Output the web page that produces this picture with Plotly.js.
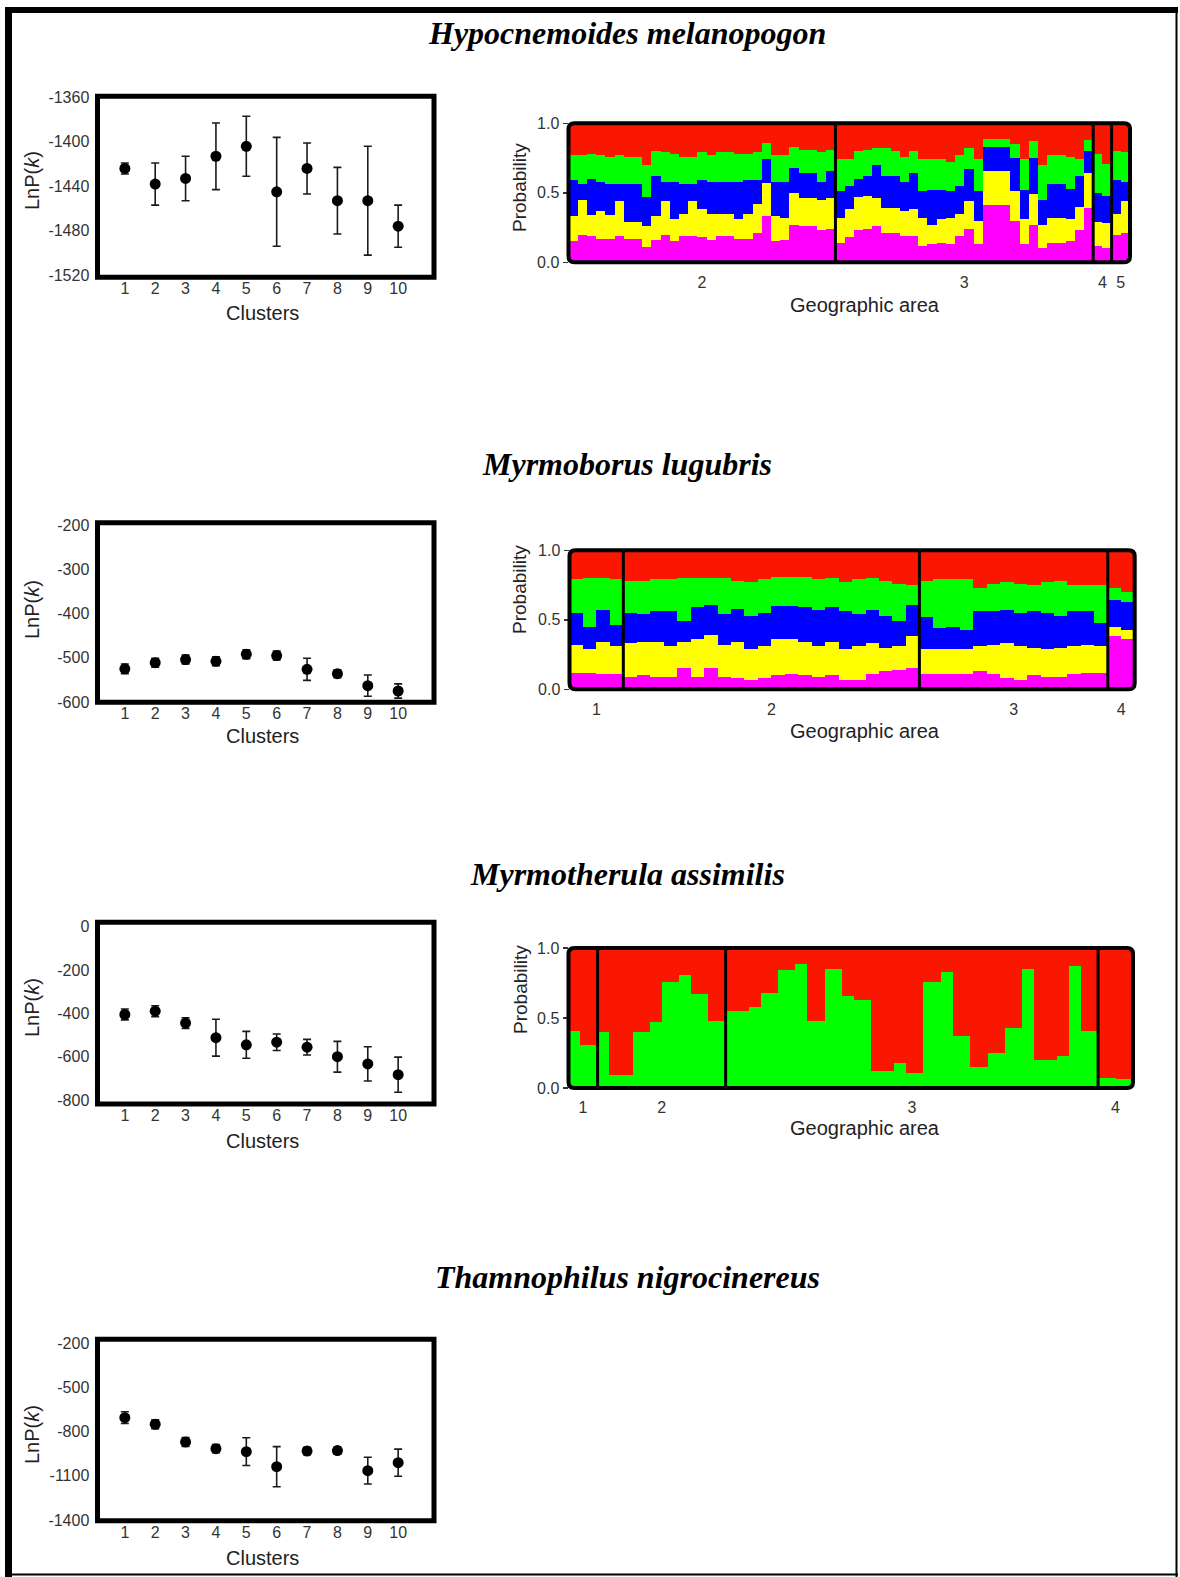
<!DOCTYPE html>
<html><head><meta charset="utf-8">
<script src="https://cdn.plot.ly/plotly-3.0.1.min.js"></script>
<style>html,body{margin:0;padding:0;background:#fff}#chart{width:1180px;height:1577px}</style>
</head><body><div id="chart"></div><script>
// ================= DATA =================
const species = ['Hypocnemoides melanopogon', 'Myrmoborus lugubris', 'Myrmotherula assimilis', 'Thamnophilus nigrocinereus'];
const clusters = [1, 2, 3, 4, 5, 6, 7, 8, 9, 10];

// mean LnP(k) and error (half-length) for each K
const hmLnP   = [-1424, -1438, -1433, -1413, -1404, -1445, -1424, -1453, -1453, -1476];
const hmLnPsd = [5, 19, 20, 30, 27, 49, 23, 30, 49, 19];
const mlLnP   = [-525, -511, -504, -508, -492, -495, -526, -536, -563, -575];
const mlLnPsd = [11, 10, 10, 10, 10, 10, 25, 9, 24, 16];
const maLnP   = [-405, -390, -445, -512, -545, -533, -556, -600, -633, -683];
const maLnPsd = [25, 25, 25, 85, 62, 38, 36, 71, 79, 81];
const tnLnP   = [-705, -750, -870, -916, -936, -1038, -932, -929, -1065, -1011];
const tnLnPsd = [40, 30, 30, 28, 94, 136, 25, 25, 91, 92];

const hmLnPTicks = [-1520, -1480, -1440, -1400, -1360];
const mlLnPTicks = [-600, -500, -400, -300, -200];
const maLnPTicks = [-800, -600, -400, -200, 0];
const tnLnPTicks = [-1400, -1100, -800, -500, -200];

// STRUCTURE bar plots: cumulative membership (top of magenta, yellow, blue, green; red fills to 1)
const hmAreas = ['2', '3', '4', '5'];
const hmAreaSizes = [29, 28, 2, 2];
const hmCumGreen = [
 .77,.77,.78,.77,.76,.77,.76,.76,.70,.80,.79,.78,.76,.76,.79,.77,.79,.79,.78,.78,.79,.86,.77,.77,.83,.81,.81,.79,.81,
 .74,.74,.80,.81,.82,.82,.80,.76,.80,.74,.74,.74,.72,.77,.82,.74,.89,.89,.89,.85,.74,.87,.70,.77,.77,.76,.74,.88,
 .78,.71, .80,.79];
const hmCumBlue = [
 .59,.56,.60,.58,.56,.56,.56,.56,.47,.62,.58,.58,.56,.56,.59,.58,.58,.58,.58,.59,.59,.74,.58,.58,.68,.64,.64,.58,.66,
 .51,.55,.60,.62,.70,.62,.62,.58,.64,.51,.52,.52,.51,.55,.67,.51,.83,.83,.83,.75,.52,.75,.45,.56,.56,.53,.62,.80,
 .50,.48, .59,.58];
const hmCumYellow = [
 .33,.45,.34,.37,.34,.44,.29,.29,.26,.33,.44,.31,.35,.44,.38,.35,.35,.35,.31,.35,.42,.57,.33,.32,.50,.46,.46,.45,.46,
 .32,.38,.47,.48,.46,.39,.39,.37,.38,.32,.27,.31,.32,.35,.44,.30,.66,.66,.66,.51,.31,.49,.27,.32,.32,.31,.40,.64,
 .29,.28, .35,.44];
const hmCumMagenta = [
 .15,.20,.19,.17,.17,.19,.17,.17,.11,.16,.20,.15,.19,.19,.18,.16,.19,.19,.17,.17,.21,.33,.15,.16,.27,.26,.26,.23,.24,
 .14,.18,.23,.24,.26,.21,.21,.19,.19,.12,.13,.14,.13,.19,.24,.13,.41,.41,.41,.30,.13,.27,.10,.14,.14,.15,.23,.39,
 .12,.10, .20,.21];

const mlAreas = ['1', '2', '3', '4'];
const mlAreaSizes = [4, 22, 14, 2];
const mlCumGreen = [.79,.80,.80,.79,
 .78,.78,.79,.79,.80,.80,.80,.80,.78,.77,.79,.81,.81,.81,.79,.80,.77,.79,.80,.78,.76,.75,
 .78,.79,.79,.79,.73,.76,.77,.76,.75,.77,.78,.75,.75,.75, .73,.70];
const mlCumBlue = [.55,.45,.57,.46,
 .55,.54,.56,.56,.49,.59,.61,.54,.58,.53,.55,.60,.60,.59,.57,.59,.56,.54,.57,.53,.49,.61,
 .52,.44,.45,.43,.56,.56,.57,.55,.56,.55,.53,.56,.56,.48, .64,.63];
const mlCumYellow = [.32,.29,.34,.31,
 .33,.34,.34,.31,.34,.36,.39,.32,.34,.29,.31,.36,.36,.34,.31,.34,.29,.31,.33,.30,.31,.38,
 .29,.29,.29,.29,.31,.32,.33,.31,.30,.29,.30,.31,.32,.31, .45,.43];
const mlCumMagenta = [.12,.12,.11,.11,
 .09,.10,.09,.09,.15,.09,.15,.09,.08,.07,.08,.10,.11,.10,.09,.10,.07,.07,.11,.13,.14,.15,
 .11,.11,.11,.11,.13,.11,.08,.07,.10,.09,.09,.11,.12,.12, .38,.36];

const maAreas = ['1', '2', '3', '4'];
const maAreaSizes = [5, 22, 64, 6];
const maGreen = [.41,.41,.31,.31,.31,
 .40,.40,.09,.09,.09,.09,.40,.40,.40,.47,.47,.76,.76,.76,.81,.81,.67,.67,.67,.48,.48,.48,
 .55,.55,.55,.55,.58,.58,.68,.68,.68,.84,.84,.84,.885,.885,.48,.48,.48,.85,.85,.85,.66,.66,.63,.63,.63,
 .12,.12,.12,.12,.18,.18,.11,.11,.11,.76,.76,.76,.83,.83,.37,.37,.37,.15,.15,.15,.25,.25,.25,.43,.43,.43,
 .85,.85,.20,.20,.20,.20,.23,.23,.87,.87,.41,.41,.41,
 .07,.07,.07,.065,.065,.065];

// ================= BUILD =================
const W = 1180, H = 1577;
const px = v => v / W;
const py = v => 1 - v / H;
const COL = {red: '#fa1600', green: '#00ff00', blue: '#0000ff', yellow: '#ffff00', magenta: '#ff00ff'};
const TICKFONT = {family: 'Liberation Sans, Arial, sans-serif', size: 16, color: '#333'};
const TITLEFONT = {family: 'Liberation Sans, Arial, sans-serif', size: 20, color: '#222'};

const traces = [];
const layout = {
  width: W, height: H, margin: {l: 0, r: 0, t: 0, b: 0},
  paper_bgcolor: '#ffffff', plot_bgcolor: 'rgba(0,0,0,0)',
  showlegend: false, barmode: 'stack', bargap: 0,
  font: {family: 'Liberation Sans, Arial, sans-serif', color: '#222'},
  shapes: [], annotations: []
};

// ---- left LnP(k) panels ----
const lnpPanels = [
  {lnp: hmLnP, sd: hmLnPsd, ticks: hmLnPTicks, top: 96.3, bottom: 277.3, range: [-1522, -1359], ytitle: 181, xtitle: 313},
  {lnp: mlLnP, sd: mlLnPsd, ticks: mlLnPTicks, top: 522.7, bottom: 702.3, range: [-600.5, -195], ytitle: 610, xtitle: 736},
  {lnp: maLnP, sd: maLnPsd, ticks: maLnPTicks, top: 922.3, bottom: 1104, range: [-818, 20], ytitle: 1008, xtitle: 1141},
  {lnp: tnLnP, sd: tnLnPsd, ticks: tnLnPTicks, top: 1339.3, bottom: 1520.7, range: [-1405, -173], ytitle: 1435, xtitle: 1558}
];
const LX0 = 97.5, LX1 = 434;
lnpPanels.forEach((p, i) => {
  const n = i + 1;
  const xa = 'xaxis' + (n === 1 ? '' : n), ya = 'yaxis' + (n === 1 ? '' : n);
  const xr = 'x' + (n === 1 ? '' : n), yr = 'y' + (n === 1 ? '' : n);
  traces.push({
    type: 'scatter', mode: 'markers', x: clusters, y: p.lnp, xaxis: xr, yaxis: yr,
    marker: {color: '#000', size: 11},
    error_y: {type: 'data', array: p.sd, visible: true, color: '#1a1a1a', thickness: 1.6, width: 4},
    hoverinfo: 'x+y'
  });
  layout[xa] = {domain: [px(LX0), px(LX1)], range: [0.1, 11.18], anchor: yr,
    tickvals: clusters, ticks: '', 
    showgrid: false, zeroline: false, showline: false, tickfont: TICKFONT, fixedrange: true};
  layout[ya] = {domain: [py(p.bottom), py(p.top)], range: p.range, anchor: xr,
    tickvals: p.ticks, ticktext: p.ticks.map(v => String(v)), ticks: 'outside', ticklen: 4, tickcolor: 'rgba(0,0,0,0)',
    showgrid: false, zeroline: false, showline: false, tickfont: TICKFONT, fixedrange: true};
  layout.shapes.push({type: 'rect', xref: xr + ' domain', yref: yr + ' domain', x0: 0, x1: 1, y0: 0, y1: 1,
    line: {color: '#000', width: 5}});
  layout.annotations.push({text: 'Clusters', x: px(262), y: py(p.xtitle), xref: 'paper', yref: 'paper',
    showarrow: false, xanchor: 'center', yanchor: 'middle', font: TITLEFONT});
  layout.annotations.push({text: 'LnP(<i>k</i>)', x: px(32), y: py(p.ytitle), xref: 'paper', yref: 'paper',
    showarrow: false, textangle: -90, xanchor: 'center', yanchor: 'middle', font: TITLEFONT});
});

// ---- STRUCTURE panels ----
function cumToLayers(cum) {
  // cum: [magentaTop, yellowTop, blueTop, greenTop]; returns stacked heights bottom->top
  const [m, y, b, g] = cum;
  return [
    {name: 'cluster 5', color: COL.magenta, v: m},
    {name: 'cluster 4', color: COL.yellow, v: y.map((v, k) => v - m[k])},
    {name: 'cluster 3', color: COL.blue, v: b.map((v, k) => v - y[k])},
    {name: 'cluster 2', color: COL.green, v: g.map((v, k) => v - b[k])},
    {name: 'cluster 1', color: COL.red, v: g.map(v => 1 - v)}
  ];
}
const structPanels = [
  {areas: hmAreas, sizes: hmAreaSizes, layers: cumToLayers([hmCumMagenta, hmCumYellow, hmCumBlue, hmCumGreen]),
   x0: 568.5, x1: 1130, top: 123.3, bottom: 262.3, ptitle: 188, gtitle: 305},
  {areas: mlAreas, sizes: mlAreaSizes, layers: cumToLayers([mlCumMagenta, mlCumYellow, mlCumBlue, mlCumGreen]),
   x0: 569.5, x1: 1134.7, top: 550.3, bottom: 689.3, ptitle: 590, gtitle: 731},
  {areas: maAreas, sizes: maAreaSizes, layers: [
     {name: 'cluster 2', color: COL.green, v: maGreen},
     {name: 'cluster 1', color: COL.red, v: maGreen.map(v => 1 - v)}],
   x0: 568.5, x1: 1133, top: 948, bottom: 1088, ptitle: 990, gtitle: 1128}
];
structPanels.forEach((p, i) => {
  const n = i + 5;
  const xr = 'x' + n, yr = 'y' + n;
  const N = p.sizes.reduce((a, b) => a + b, 0);
  const idx = Array.from({length: N}, (_, k) => k);
  p.layers.forEach(L => traces.push({
    type: 'bar', x: idx, y: L.v, xaxis: xr, yaxis: yr, name: L.name,
    marker: {color: L.color, line: {width: 0}}, hoverinfo: 'y+name'
  }));
  // group centres and boundaries
  const centers = [], bounds = [];
  let acc = 0;
  p.sizes.forEach((s, k) => {
    centers.push(acc + s / 2 - 0.5);
    acc += s;
    if (k < p.sizes.length - 1) bounds.push(acc - 0.5);
  });
  layout['xaxis' + n] = {domain: [px(p.x0), px(p.x1)], range: [-0.5, N - 0.5], anchor: yr,
    tickvals: centers, ticktext: p.areas, ticks: 'outside', ticklen: 5, tickcolor: 'rgba(0,0,0,0)',
    showgrid: false, zeroline: false, showline: false, tickfont: TICKFONT, fixedrange: true};
  layout['yaxis' + n] = {domain: [py(p.bottom), py(p.top)], range: [0, 1], anchor: xr,
    tickvals: [0, 0.5, 1], ticktext: ['0.0', '0.5', '1.0'], ticks: 'outside', ticklen: 5, tickwidth: 1.5,
    tickcolor: '#333', showgrid: false, zeroline: false, showline: false, tickfont: TICKFONT, fixedrange: true};
  bounds.forEach(b => layout.shapes.push({type: 'line', xref: xr, yref: yr + ' domain', x0: b, x1: b, y0: 0, y1: 1,
    line: {color: '#000', width: 3}}));
  // rounded outline
  const r = 6, X0 = p.x0, X1 = p.x1, Y0 = p.top, Y1 = p.bottom;
  const P = (x, y) => px(x) + ',' + py(y);
  const path = 'M' + P(X0 + r, Y0) + ' L' + P(X1 - r, Y0) + ' Q' + P(X1, Y0) + ' ' + P(X1, Y0 + r) +
    ' L' + P(X1, Y1 - r) + ' Q' + P(X1, Y1) + ' ' + P(X1 - r, Y1) + ' L' + P(X0 + r, Y1) +
    ' Q' + P(X0, Y1) + ' ' + P(X0, Y1 - r) + ' L' + P(X0, Y0 + r) + ' Q' + P(X0, Y0) + ' ' + P(X0 + r, Y0) + ' Z';
  layout.shapes.push({type: 'path', xref: 'paper', yref: 'paper', path: path, line: {color: '#000', width: 4}});
  layout.annotations.push({text: 'Probability', x: px(520), y: py(p.ptitle), xref: 'paper', yref: 'paper',
    showarrow: false, textangle: -90, xanchor: 'center', yanchor: 'middle', font: {...TITLEFONT, size: 19}});
  layout.annotations.push({text: 'Geographic area', x: px(865), y: py(p.gtitle), xref: 'paper', yref: 'paper',
    showarrow: false, xanchor: 'center', yanchor: 'middle', font: TITLEFONT});
});

// ---- species titles ----
const titleY = [33, 464, 874, 1277];
species.forEach((s, i) => layout.annotations.push({
  text: '<b><i>' + s + '</i></b>', x: px(627), y: py(titleY[i]), xref: 'paper', yref: 'paper',
  showarrow: false, xanchor: 'center', yanchor: 'middle',
  font: {family: 'Liberation Serif, Times New Roman, serif', size: 32, color: '#000'}
}));

// ---- outer frame ----
layout.shapes.push(
  {type: 'line', xref: 'paper', yref: 'paper', x0: px(5), x1: px(1178), y0: py(10), y1: py(10), line: {color: '#000', width: 6}},
  {type: 'line', xref: 'paper', yref: 'paper', x0: px(8.5), x1: px(8.5), y0: py(7), y1: py(1577), line: {color: '#000', width: 7}},
  {type: 'line', xref: 'paper', yref: 'paper', x0: px(1176.5), x1: px(1176.5), y0: py(7), y1: py(1577), line: {color: '#000', width: 2}},
  {type: 'line', xref: 'paper', yref: 'paper', x0: px(5), x1: px(1178), y0: py(1574.5), y1: py(1574.5), line: {color: '#000', width: 2}}
);

Plotly.newPlot('chart', traces, layout, {displayModeBar: false, staticPlot: true});
</script></body></html>
